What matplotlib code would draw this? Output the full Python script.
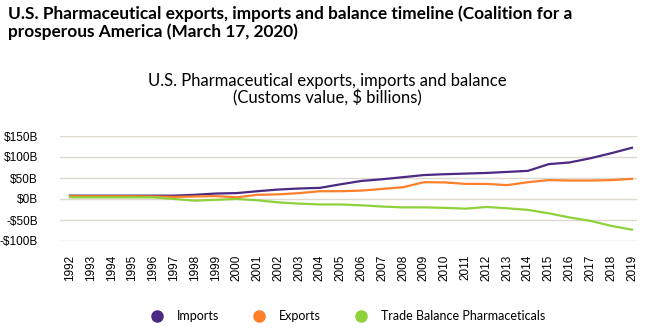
import matplotlib.pyplot as plt

years = list(range(1992, 2020))

# values, $ billions
imports = [8, 8, 8, 8, 8, 8, 10, 13, 14, 18.5, 22.5, 25, 26.5, 35,
           43, 47, 52, 57, 59, 60.5, 62, 64.5, 67, 83, 87, 97, 109, 122]
exports = [6.5, 6.5, 6.5, 6.5, 6, 5, 6, 7, 4, 10, 11, 14, 18.5, 18.5,
           20, 24, 28, 40, 39.5, 36, 36, 33, 40, 45, 44, 44, 45, 48]
balance = [4, 4, 4, 4, 4, 0, -4, -2, 0, -3, -8, -11, -13, -13,
           -15, -18, -20, -20, -21, -23, -19, -22, -26, -34, -44, -52, -64, -73]

yticks = [-100, -50, 0, 50, 100, 150]
ytick_labels = ['-$100B', '-$50B', '$0B', '$50B', '$100B', '$150B']

c_imp = '#4a2a82'
c_exp = '#ff7f2a'
c_bal = '#8fd13a'

fig = plt.figure(figsize=(6.58, 3.34), dpi=100)
ax = fig.add_axes([60/658, 1 - 241/334, 577/658, 105/334])

ax.plot(years, imports, color=c_imp, lw=1.6, label='Imports')
ax.plot(years, exports, color=c_exp, lw=1.6, label='Exports')
ax.plot(years, balance, color=c_bal, lw=1.6, label='Trade Balance Pharmaceticals')

ax.set_ylim(-100, 150)
ax.set_xlim(1991.52, 2019.24)
ax.set_yticks(yticks)
ax.set_yticklabels(ytick_labels, fontsize=8.5, family='Liberation Sans')
ax.set_xticks(years)
ax.set_xticklabels([str(y) for y in years], rotation=90, fontsize=8.5,
                   family='Liberation Sans')
ax.tick_params(axis='y', length=0, pad=16)
ax.tick_params(axis='x', length=0, pad=10)
ax.grid(axis='y', color='#ddd8d0', lw=1)
ax.set_axisbelow(True)
for s in ax.spines.values():
    s.set_visible(False)

fig.text(8/658, 1 - 5/334, 'U.S. Pharmaceutical exports, imports and balance timeline (Coalition for a\nprosperous America (March 17, 2020)',
         ha='left', va='top', fontsize=12.4, fontweight='bold', family='Lato',
         linespacing=1.15)
fig.text(327/658, 1 - 73/334, 'U.S. Pharmaceutical exports, imports and balance\n(Customs value, $ billions)',
         ha='center', va='top', fontsize=12, family='Lato', linespacing=1.05)

h = [plt.Line2D([], [], ls='', marker='o', ms=8, color=c) for c in (c_imp, c_exp, c_bal)]
fig.legend(h, ['Imports', 'Exports', 'Trade Balance Pharmaceticals'],
           loc='center', bbox_to_anchor=(345/658, 1 - 316/334), ncol=3,
           frameon=False, prop={'family': 'Lato', 'size': 9},
           handletextpad=0.6, columnspacing=2.2)

fig.savefig('out.png', dpi=100)
